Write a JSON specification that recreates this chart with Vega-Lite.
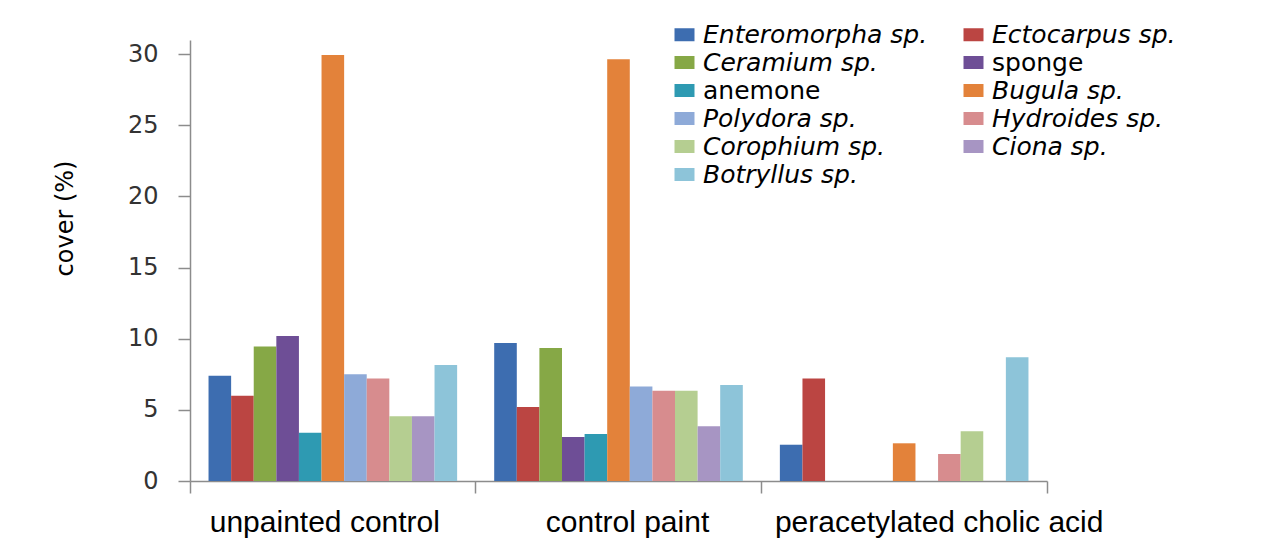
{
  "$schema": "https://vega.github.io/schema/vega-lite/v6.json",
  "width": 857,
  "height": 441,
  "autosize": {"type": "none"},
  "padding": {"left": 190, "top": 40, "right": 224, "bottom": 77},
  "background": "white",
  "data": {
    "values": [
      {"treatment": "unpainted control", "species": "Enteromorpha sp.", "cover": 7.4},
      {"treatment": "unpainted control", "species": "Ectocarpus sp.", "cover": 6.0},
      {"treatment": "unpainted control", "species": "Ceramium sp.", "cover": 9.45},
      {"treatment": "unpainted control", "species": "sponge", "cover": 10.2},
      {"treatment": "unpainted control", "species": "anemone", "cover": 3.4},
      {"treatment": "unpainted control", "species": "Bugula sp.", "cover": 29.95},
      {"treatment": "unpainted control", "species": "Polydora sp.", "cover": 7.5},
      {"treatment": "unpainted control", "species": "Hydroides sp.", "cover": 7.2},
      {"treatment": "unpainted control", "species": "Corophium sp.", "cover": 4.55},
      {"treatment": "unpainted control", "species": "Ciona sp.", "cover": 4.55},
      {"treatment": "unpainted control", "species": "Botryllus sp.", "cover": 8.15},
      {"treatment": "control paint", "species": "Enteromorpha sp.", "cover": 9.7},
      {"treatment": "control paint", "species": "Ectocarpus sp.", "cover": 5.2},
      {"treatment": "control paint", "species": "Ceramium sp.", "cover": 9.35},
      {"treatment": "control paint", "species": "sponge", "cover": 3.1},
      {"treatment": "control paint", "species": "anemone", "cover": 3.3},
      {"treatment": "control paint", "species": "Bugula sp.", "cover": 29.65},
      {"treatment": "control paint", "species": "Polydora sp.", "cover": 6.65},
      {"treatment": "control paint", "species": "Hydroides sp.", "cover": 6.35},
      {"treatment": "control paint", "species": "Corophium sp.", "cover": 6.35},
      {"treatment": "control paint", "species": "Ciona sp.", "cover": 3.85},
      {"treatment": "control paint", "species": "Botryllus sp.", "cover": 6.75},
      {"treatment": "peracetylated cholic acid", "species": "Enteromorpha sp.", "cover": 2.55},
      {"treatment": "peracetylated cholic acid", "species": "Ectocarpus sp.", "cover": 7.2},
      {"treatment": "peracetylated cholic acid", "species": "Ceramium sp.", "cover": 0},
      {"treatment": "peracetylated cholic acid", "species": "sponge", "cover": 0},
      {"treatment": "peracetylated cholic acid", "species": "anemone", "cover": 0},
      {"treatment": "peracetylated cholic acid", "species": "Bugula sp.", "cover": 2.65},
      {"treatment": "peracetylated cholic acid", "species": "Polydora sp.", "cover": 0},
      {"treatment": "peracetylated cholic acid", "species": "Hydroides sp.", "cover": 1.9},
      {"treatment": "peracetylated cholic acid", "species": "Corophium sp.", "cover": 3.5},
      {"treatment": "peracetylated cholic acid", "species": "Ciona sp.", "cover": 0},
      {"treatment": "peracetylated cholic acid", "species": "Botryllus sp.", "cover": 8.7}
    ]
  },
  "mark": {"type": "bar"},
  "encoding": {
    "x": {
      "field": "treatment",
      "type": "nominal",
      "sort": ["unpainted control", "control paint", "peracetylated cholic acid"],
      "scale": {"paddingInner": 0, "paddingOuter": 0},
      "axis": {
        "title": null,
        "labelAngle": 0,
        "bandPosition": 1,
        "tickExtra": true,
        "tickSize": 12,
        "tickWidth": 1.5,
        "domainWidth": 1.5,
        "domainColor": "#8c8c8c",
        "tickColor": "#8c8c8c",
        "labelFont": "Liberation Sans",
        "labelFontSize": 30,
        "labelColor": "#000000",
        "labelPadding": 14,
        "labelLimit": 400,
        "labelOffset": {
          "condition": [
            {"test": "datum.value === 'unpainted control'", "value": -8},
            {"test": "datum.value === 'control paint'", "value": 9}
          ],
          "value": 35
        }
      }
    },
    "xOffset": {
      "field": "species",
      "type": "nominal",
      "sort": ["Enteromorpha sp.", "Ectocarpus sp.", "Ceramium sp.", "sponge", "anemone", "Bugula sp.", "Polydora sp.", "Hydroides sp.", "Corophium sp.", "Ciona sp.", "Botryllus sp."],
      "scale": {"paddingInner": 0, "paddingOuter": 0.82}
    },
    "y": {
      "field": "cover",
      "type": "quantitative",
      "scale": {"domain": [0, 31], "nice": false},
      "axis": {
        "values": [0, 5, 10, 15, 20, 25, 30],
        "grid": false,
        "title": "cover (%)",
        "tickSize": 12,
        "tickWidth": 1.5,
        "domainWidth": 1.5,
        "domainColor": "#8c8c8c",
        "tickColor": "#8c8c8c",
        "labelFont": "DejaVu Sans",
        "labelFontSize": 24,
        "labelColor": "#333333",
        "labelPadding": 20,
        "titleFont": "DejaVu Sans",
        "titleFontSize": 24,
        "titleFontWeight": "normal",
        "titleColor": "#000000",
        "titleAngle": -90,
        "titleX": -125,
        "titleY": 178,
        "titleAlign": "center",
        "titleBaseline": "middle"
      }
    },
    "color": {
      "field": "species",
      "type": "nominal",
      "sort": ["Enteromorpha sp.", "Ectocarpus sp.", "Ceramium sp.", "sponge", "anemone", "Bugula sp.", "Polydora sp.", "Hydroides sp.", "Corophium sp.", "Ciona sp.", "Botryllus sp."],
      "scale": {
        "domain": ["Enteromorpha sp.", "Ectocarpus sp.", "Ceramium sp.", "sponge", "anemone", "Bugula sp.", "Polydora sp.", "Hydroides sp.", "Corophium sp.", "Ciona sp.", "Botryllus sp."],
        "range": ["#3d6db0", "#bb4542", "#86a846", "#6e4e96", "#2e9ab2", "#e3823a", "#8eaad8", "#d78c8e", "#b5ce91", "#a795c3", "#8dc4d9"]
      },
      "legend": {
        "orient": "none",
        "direction": "horizontal",
        "legendX": 482,
        "legendY": -18,
        "columns": 2,
        "title": null,
        "symbolType": "M-1,-0.65L1,-0.65L1,0.65L-1,0.65Z",
        "symbolSize": 400,
        "symbolStrokeWidth": 0,
        "symbolOpacity": 1,
        "labelFont": "DejaVu Sans",
        "labelFontSize": 25,
        "labelColor": "#000000",
        "labelOffset": 6,
        "columnPadding": 33,
        "rowPadding": 2,
        "labelLimit": 400,
        "encode": {
          "labels": {
            "update": {
              "fontStyle": {"signal": "datum.label === 'sponge' || datum.label === 'anemone' ? 'normal' : 'italic'"}
            }
          }
        }
      }
    }
  },
  "config": {"view": {"stroke": null}}
}
